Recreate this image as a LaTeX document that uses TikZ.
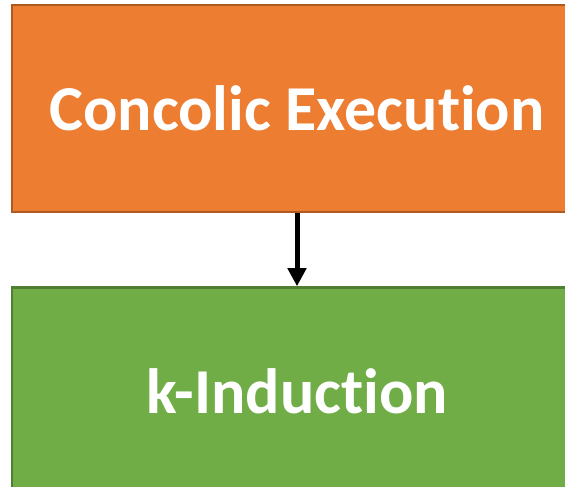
\documentclass[tikz,border=0pt]{standalone}
\usepackage{fontspec}
\setmainfont{Carlito}[Ligatures=NoCommon]
\usetikzlibrary{arrows.meta, positioning}
\definecolor{boxorange}{HTML}{ED7D31}
\definecolor{lineorange}{HTML}{AE5A21}
\definecolor{boxgreen}{HTML}{70AD47}
\definecolor{linegreen}{HTML}{507E32}

\begin{document}
\begin{tikzpicture}[x=1pt, y=1pt,
            node distance= 73pt,
            block/.style = {rectangle, draw, line width=2.5pt, minimum width=570pt, minimum height=207pt,
                            text=white, font=\bfseries\fontsize{64}{70}\selectfont, align=center},
            arrow/.style = {-{Triangle[width=18pt, length=18pt]}, line width=5pt}]
            \clip (0,0) rectangle (565,487);
            \useasboundingbox (0,0) rectangle (565,487);
            % nodes
            \node (concolic) [block, fill=boxorange, draw=lineorange] at (297,378.5) {Concolic Execution};
            \node (kind) [block, fill=boxgreen, draw=linegreen, below=of concolic] {k-Induction};
            % Connections
            \draw [arrow] (concolic.south) -- (kind.north);
        \end{tikzpicture}
\end{document}
